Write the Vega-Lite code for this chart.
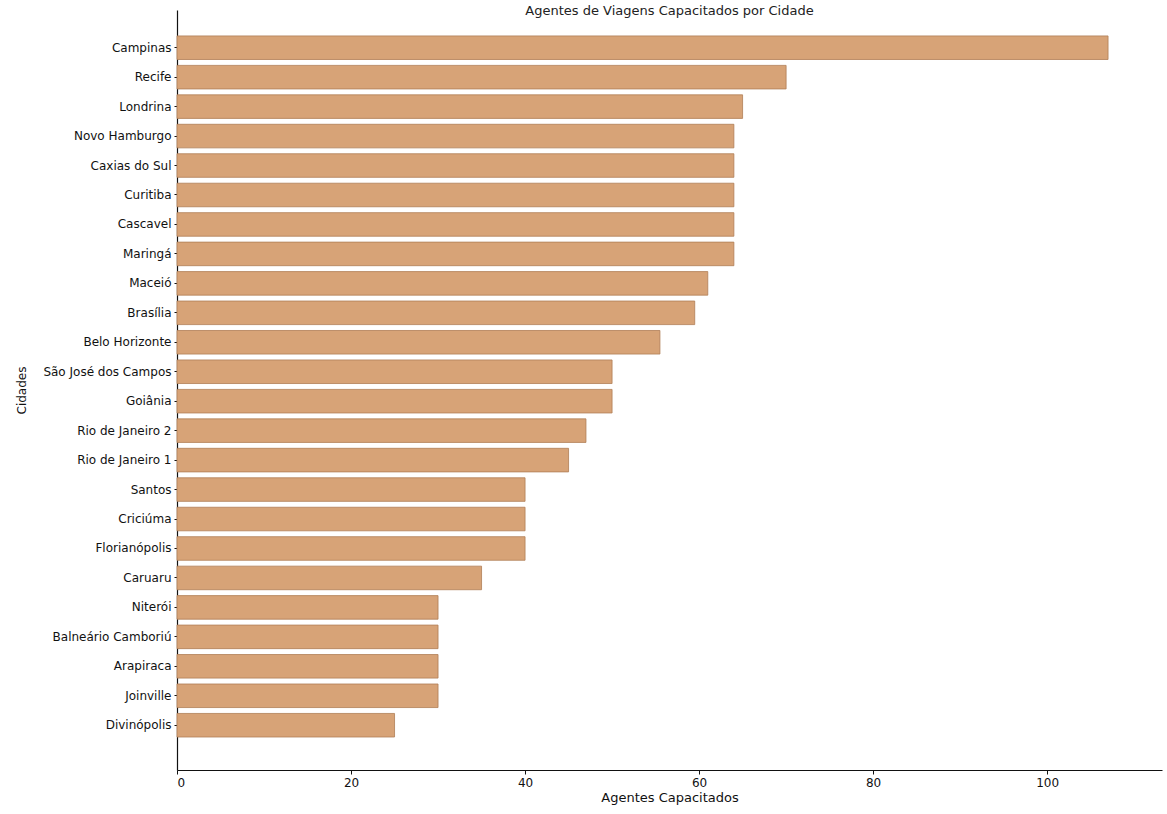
{
  "$schema": "https://vega.github.io/schema/vega-lite/v6.json",
  "width": 985,
  "height": 760,
  "autosize": {"type": "none"},
  "padding": {"left": 177, "top": 10, "right": 5, "bottom": 44},
  "background": "white",
  "title": {
    "text": "Agentes de Viagens Capacitados por Cidade",
    "anchor": "middle",
    "baseline": "alphabetic",
    "offset": -18,
    "font": "DejaVu Sans",
    "fontSize": 13,
    "fontWeight": "normal",
    "color": "#222222"
  },
  "data": {
    "values": [
      {"cidade": "Campinas", "agentes": 107},
      {"cidade": "Recife", "agentes": 70},
      {"cidade": "Londrina", "agentes": 65},
      {"cidade": "Novo Hamburgo", "agentes": 64},
      {"cidade": "Caxias do Sul", "agentes": 64},
      {"cidade": "Curitiba", "agentes": 64},
      {"cidade": "Cascavel", "agentes": 64},
      {"cidade": "Maringá", "agentes": 64},
      {"cidade": "Maceió", "agentes": 61},
      {"cidade": "Brasília", "agentes": 59.5},
      {"cidade": "Belo Horizonte", "agentes": 55.5},
      {"cidade": "São José dos Campos", "agentes": 50},
      {"cidade": "Goiânia", "agentes": 50},
      {"cidade": "Rio de Janeiro 2", "agentes": 47},
      {"cidade": "Rio de Janeiro 1", "agentes": 45},
      {"cidade": "Santos", "agentes": 40},
      {"cidade": "Criciúma", "agentes": 40},
      {"cidade": "Florianópolis", "agentes": 40},
      {"cidade": "Caruaru", "agentes": 35},
      {"cidade": "Niterói", "agentes": 30},
      {"cidade": "Balneário Camboriú", "agentes": 30},
      {"cidade": "Arapiraca", "agentes": 30},
      {"cidade": "Joinville", "agentes": 30},
      {"cidade": "Divinópolis", "agentes": 25}
    ]
  },
  "mark": {"type": "bar", "color": "#d7a377", "stroke": "#b07d55", "strokeWidth": 0.8},
  "encoding": {
    "y": {
      "field": "cidade",
      "type": "nominal",
      "sort": null,
      "scale": {"paddingInner": 0.2, "paddingOuter": 1.04, "align": 0.44},
      "axis": {
        "title": "Cidades",
        "titleFont": "DejaVu Sans",
        "titleFontSize": 12,
        "titleFontWeight": "normal",
        "titleColor": "#111111",
        "titlePadding": 14,
        "labelFont": "DejaVu Sans",
        "labelFontSize": 12,
        "labelColor": "#111111",
        "labelPadding": 3,
        "tickSize": 3,
        "tickColor": "#111111",
        "domainColor": "#111111",
        "domainWidth": 1.2,
        "grid": false
      }
    },
    "x": {
      "field": "agentes",
      "type": "quantitative",
      "scale": {"domain": [0, 113.2], "nice": false},
      "axis": {
        "title": "Agentes Capacitados",
        "values": [0, 20, 40, 60, 80, 100],
        "titleFont": "DejaVu Sans",
        "titleFontSize": 13,
        "titleFontWeight": "normal",
        "titleColor": "#111111",
        "titlePadding": 3,
        "labelFont": "DejaVu Sans",
        "labelFontSize": 12,
        "labelColor": "#111111",
        "labelPadding": 3,
        "tickSize": 4,
        "tickColor": "#111111",
        "domainColor": "#111111",
        "domainWidth": 1.2,
        "grid": false
      }
    }
  },
  "config": {"view": {"stroke": null}}
}
